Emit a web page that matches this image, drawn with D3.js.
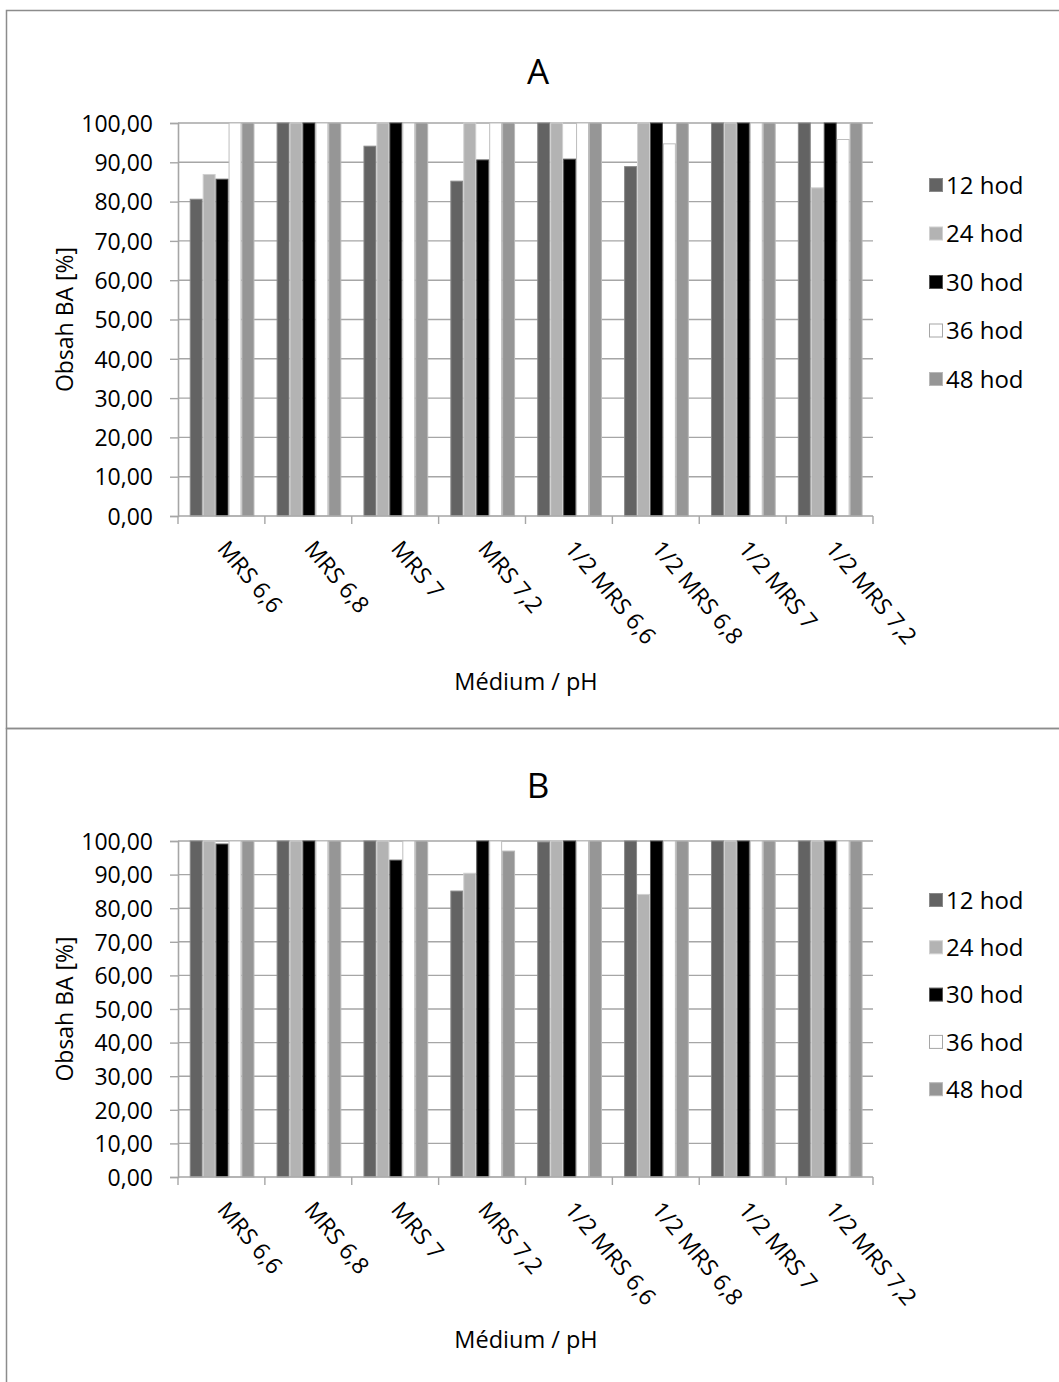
<!DOCTYPE html>
<html>
<head>
<meta charset="utf-8">
<script src="https://cdn.jsdelivr.net/npm/d3@7"></script>
<style>
  html, body { margin: 0; padding: 0; background: #fff; }
  svg { display: block; }
  text { font-family: "Open Sans", "Noto Sans", sans-serif; fill: #000; }
</style>
</head>
<body>
<svg id="chart" width="1059" height="1382"></svg>
<script>
const categories = ["MRS 6,6", "MRS 6,8", "MRS 7", "MRS 7,2", "1/2 MRS 6,6", "1/2 MRS 6,8", "1/2 MRS 7", "1/2 MRS 7,2"];
const seriesNames = ["12 hod", "24 hod", "30 hod", "36 hod", "48 hod"];
const yTicks = [0, 10, 20, 30, 40, 50, 60, 70, 80, 90, 100];

// Panel A values (per series, per category)
const a12 = [80.6, 100, 94.1, 85.2, 100, 88.9, 100, 100];
const a24 = [86.9, 100, 100, 100, 100, 100, 100, 83.5];
const a30 = [85.7, 100, 100, 90.6, 90.8, 100, 100, 100];
const a36 = [100, 100, 100, 100, 100, 94.7, 100, 95.8];
const a48 = [100, 100, 100, 100, 100, 100, 100, 100];

// Panel B values
const b12 = [100, 100, 100, 85.1, 99.7, 100, 100, 100];
const b24 = [100, 100, 100, 90.4, 100, 84.1, 100, 100];
const b30 = [99.1, 100, 94.3, 100, 100, 100, 100, 100];
const b36 = [100, 100, 100, 100, 100, 100, 100, 100];
const b48 = [100, 100, 100, 97.0, 100, 100, 100, 100];

const fills = ["#636363", "#b3b3b3", "#000000", "#ffffff", "#969696"];
const strokes = ["#8a8a8a", "#d0d0d0", "#555555", "#bdbdbd", "#b8b8b8"];

const svg = d3.select("#chart");
const fmt = v => d3.format(".2f")(v).replace(".", ",");

// panel frames
svg.append("rect").attr("x", 6.5).attr("y", 10.5).attr("width", 1060).attr("height", 718)
  .attr("fill", "none").attr("stroke", "#8c8c8c").attr("stroke-width", 1.5);
svg.append("rect").attr("x", 6.5).attr("y", 728.5).attr("width", 1060).attr("height", 660)
  .attr("fill", "none").attr("stroke", "#8c8c8c").attr("stroke-width", 1.5);

function panel(cfg, data) {
  const g = svg.append("g");
  const x0 = d3.scaleBand().domain(categories).range([178, 873]).padding(0);
  const bw = x0.bandwidth();
  const x1 = d3.scaleBand().domain(seriesNames).range([bw * 0.135, bw * 0.88]).padding(0);
  const y = d3.scaleLinear().domain([0, 100]).range([cfg.bottom, cfg.top]);

  // gridlines
  g.append("g").selectAll("line").data(yTicks.filter(t => t > 0)).join("line")
    .attr("x1", 178).attr("x2", 873)
    .attr("y1", d => y(d)).attr("y2", d => y(d))
    .attr("stroke", "#a6a6a6").attr("stroke-width", 1.4);

  // bars
  seriesNames.forEach((s, si) => {
    g.append("g").selectAll("rect").data(categories).join("rect")
      .attr("x", c => x0(c) + x1(s) + 0.5)
      .attr("width", x1.bandwidth() - 1)
      .attr("y", (c, ci) => y(data[si][ci]))
      .attr("height", (c, ci) => cfg.bottom - y(data[si][ci]))
      .attr("fill", fills[si])
      .attr("stroke", strokes[si]).attr("stroke-width", 1);
  });

  // y axis
  const yAxis = d3.axisLeft(y).tickValues(yTicks).tickSize(8).tickPadding(17).tickFormat(fmt);
  const ya = g.append("g").attr("transform", "translate(178,0)").call(yAxis);
  ya.select(".domain").attr("stroke", "#a6a6a6").attr("stroke-width", 1.6);
  ya.selectAll(".tick line").attr("stroke", "#a6a6a6").attr("stroke-width", 1.4);
  ya.selectAll(".tick text").attr("font-size", 23).attr("fill", "#000")
    .attr("font-family", "'Open Sans', sans-serif").attr("dy", "0.36em");

  // x axis line + ticks at band boundaries
  g.append("line").attr("x1", 178).attr("x2", 873).attr("y1", cfg.bottom).attr("y2", cfg.bottom)
    .attr("stroke", "#a6a6a6").attr("stroke-width", 1.6);
  const edges = categories.map(c => x0(c)).concat([x0.range()[1]]);
  g.append("g").selectAll("line").data(edges).join("line")
    .attr("x1", d => d).attr("x2", d => d)
    .attr("y1", cfg.bottom).attr("y2", cfg.bottom + 8)
    .attr("stroke", "#a6a6a6").attr("stroke-width", 1.4);

  // x labels rotated
  g.append("g").selectAll("text").data(categories).join("text")
    .attr("transform", c => `translate(${x0(c) + bw / 2 + 1},${cfg.bottom + 28}) rotate(50)`)
    .attr("text-anchor", "start")
    .attr("font-size", 23)
    .attr("dy", "0.35em")
    .text(c => c);

  // titles
  g.append("text").attr("x", 538).attr("y", cfg.titleY).attr("text-anchor", "middle")
    .attr("font-size", 35).text(cfg.title);
  g.append("text").attr("x", 526).attr("y", cfg.xTitleY).attr("text-anchor", "middle")
    .attr("font-size", 23.5).text("Médium / pH");
  g.append("text").attr("transform", `translate(73,${(cfg.top + cfg.bottom) / 2}) rotate(-90)`)
    .attr("text-anchor", "middle").attr("font-size", 23).text("Obsah BA [%]");

  // legend
  const lg = g.append("g");
  seriesNames.forEach((s, si) => {
    const cy = cfg.legY + si * cfg.legStep;
    lg.append("rect").attr("x", 929.5).attr("y", cy - 6.5).attr("width", 13).attr("height", 13)
      .attr("fill", fills[si]).attr("stroke", si === 3 ? "#a6a6a6" : strokes[si]).attr("stroke-width", 1);
    lg.append("text").attr("x", 946).attr("y", cy).attr("dy", "0.36em")
      .attr("font-size", 24).text(s);
  });
}

panel({ title: "A", top: 123, bottom: 516, titleY: 84, xTitleY: 690, legY: 185, legStep: 48.5 },
  [a12, a24, a30, a36, a48]);
panel({ title: "B", top: 841, bottom: 1177, titleY: 798, xTitleY: 1348, legY: 900, legStep: 47.3 },
  [b12, b24, b30, b36, b48]);
</script>
</body>
</html>
